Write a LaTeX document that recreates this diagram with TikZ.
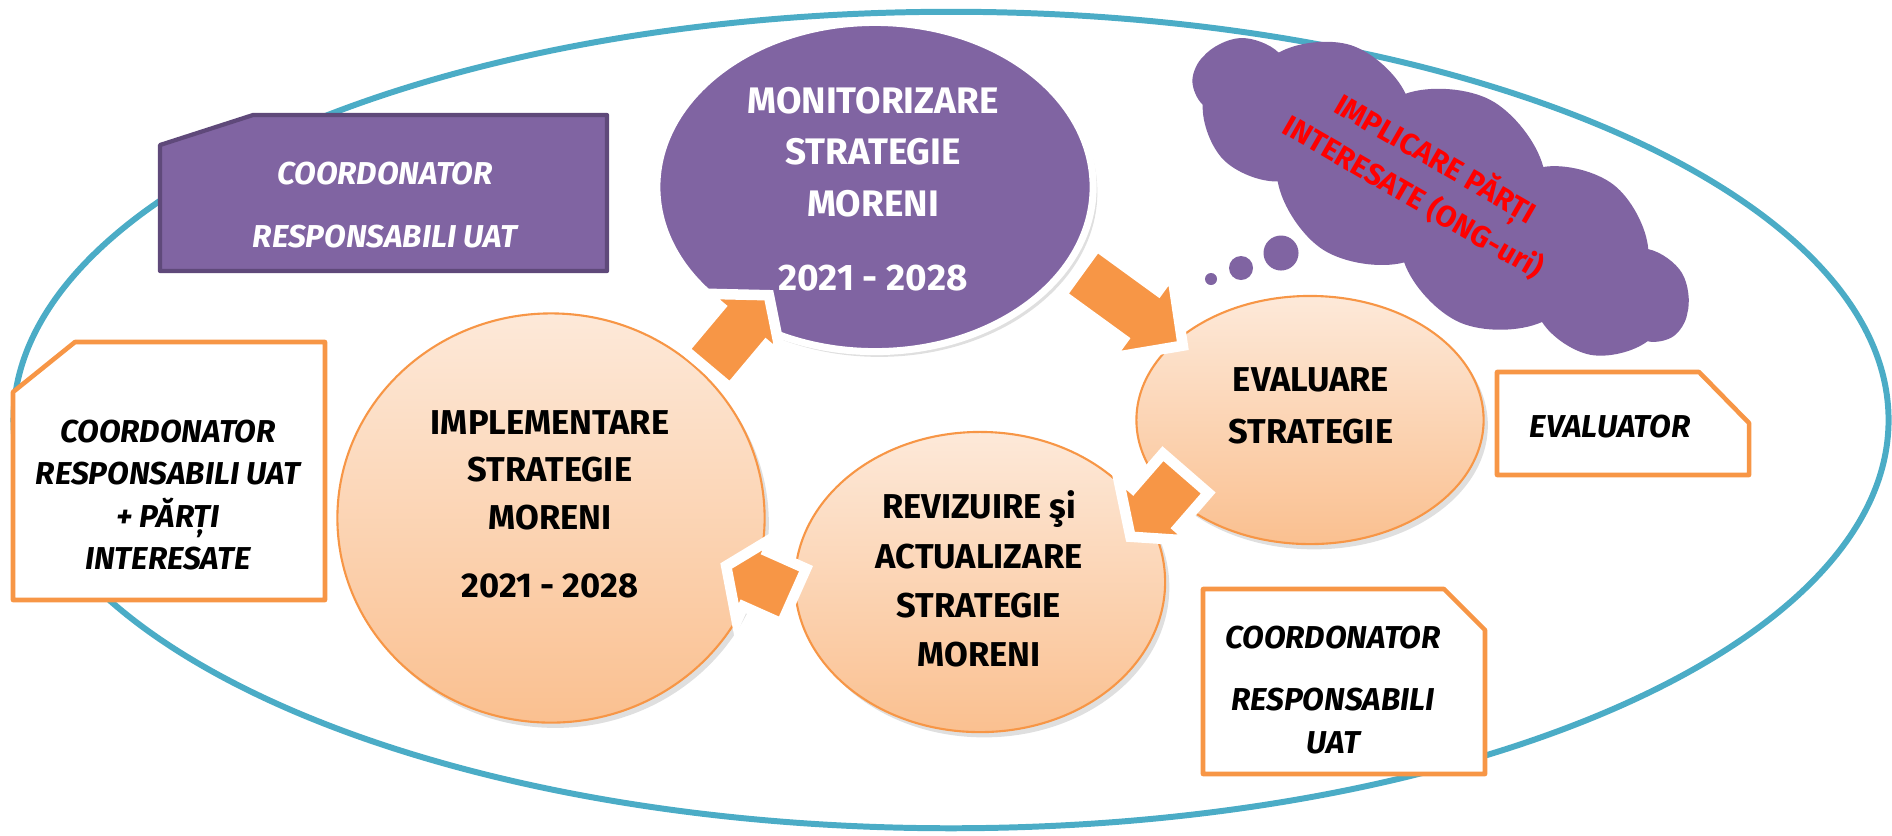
\documentclass[tikz,border=0pt]{standalone}
\usepackage{fontspec}
\setmainfont{Fira Sans}
\usetikzlibrary{shapes.geometric,shapes.symbols,shadows}

\definecolor{cyclepurple}{HTML}{8064A2}
\definecolor{boxpurple}{HTML}{5F497A}
\definecolor{cycleorange}{HTML}{F79646}
\definecolor{peachtop}{HTML}{FDE9D9}
\definecolor{peachbottom}{HTML}{FAC090}
\definecolor{ringblue}{HTML}{4BACC6}

% block arrow: centre x, centre y, angle, length, head width, shaft width, head length
\newcommand{\cyclearrow}[7]{%
  \begin{scope}[shift={(#1+3,#2+3)},rotate=#3]
    \fill[black,opacity=0.18] (-#4/2,#6/2) -- (#4/2-#7,#6/2) -- (#4/2-#7,#5/2) -- (#4/2,0)
      -- (#4/2-#7,-#5/2) -- (#4/2-#7,-#6/2) -- (-#4/2,-#6/2) -- cycle;
  \end{scope}
  \begin{scope}[shift={(#1,#2)},rotate=#3]
    \filldraw[blockarrow] (-#4/2,#6/2) -- (#4/2-#7,#6/2) -- (#4/2-#7,#5/2) -- (#4/2,0)
      -- (#4/2-#7,-#5/2) -- (#4/2-#7,-#6/2) -- (-#4/2,-#6/2) -- cycle;
  \end{scope}}

\begin{document}
\begin{tikzpicture}[x=0.01cm,y=-0.01cm,
  cyclecircle/.style={ellipse,draw=cycleorange,line width=0.6pt,top color=peachtop,bottom color=peachbottom,inner sep=0pt,
    drop shadow={shadow xshift=1.2pt,shadow yshift=-1.5pt,opacity=0.25}},
  blockarrow/.style={fill=cycleorange,draw=white,line width=3pt,line join=miter},
  orangebox/.style={draw=cycleorange,fill=white,line width=1.3pt,line join=round},
  purplebox/.style={draw=boxpurple,fill=cyclepurple,line width=1.2pt,line join=round},
  steptext/.style={align=center,font=\bfseries\fontsize{9.8}{13.5}\selectfont},
  roletext/.style={align=center,font=\bfseries\itshape\fontsize{9}{12}\selectfont}]
\useasboundingbox (0,0) rectangle (1892,835);

% outer ring
\node[ellipse,draw=ringblue,line width=1.7pt,minimum width=18.74cm,minimum height=8.16cm] (ring) at (951,420) {};

% role boxes
\draw[purplebox] (160,145) -- (253,115) -- (607,115) -- (607,271) -- (160,271) -- cycle;
\draw[orangebox] (13,392) -- (75,342) -- (325,342) -- (325,600) -- (13,600) -- cycle;
\draw[orangebox] (1497,372) -- (1699,372) -- (1749,423) -- (1749,475) -- (1497,475) -- cycle;
\draw[orangebox] (1203,589) -- (1444,589) -- (1485,630) -- (1485,774) -- (1203,774) -- cycle;

% thought cloud
\node[cloud,cloud puffs=11,cloud puff arc=95,fill=cyclepurple,inner sep=0pt,
  minimum width=5.5cm,minimum height=2.15cm,rotate=-28] (cloud) at (1440,195) {};
\node[circle,fill=cyclepurple,inner sep=0pt,minimum size=0.35cm] (dotA) at (1281,253) {};
\node[circle,fill=cyclepurple,inner sep=0pt,minimum size=0.24cm] (dotB) at (1241,268) {};
\node[circle,fill=cyclepurple,inner sep=0pt,minimum size=0.12cm] (dotC) at (1211,279) {};

% cycle
\node[cyclecircle,minimum width=3.47cm,minimum height=2.48cm] (evalc) at (1310,420) {};
\node[cyclecircle,minimum width=3.70cm,minimum height=3.00cm] (rev) at (980,582) {};
\node[cyclecircle,minimum width=4.27cm,minimum height=4.09cm] (impl) at (551,518) {};
\node[ellipse,fill=cyclepurple,draw=white,line width=2pt,inner sep=0pt,minimum width=4.36cm,minimum height=3.29cm,
  drop shadow={shadow xshift=1.2pt,shadow yshift=-1.5pt,opacity=0.25}] (mon) at (875,187) {};

% arrows
\cyclearrow{738}{332}{50}{96}{100}{60}{40}
\cyclearrow{1131}{308}{-36}{128}{106}{60}{52}
\cyclearrow{1158}{505}{229}{84}{100}{60}{38}
\cyclearrow{760}{581}{156}{74}{92}{60}{32}

% step labels
\node[steptext,text=white,font=\bfseries\fontsize{10.5}{14.6}\selectfont] (montext) at (873,189)
  {MONITORIZARE\\STRATEGIE\\MORENI\\[6.5pt]2021 - 2028};
\node[steptext] (impltext) at (550,504) {IMPLEMENTARE\\STRATEGIE\\MORENI\\[5.8pt]2021 - 2028};
\node[steptext,font=\bfseries\fontsize{9.8}{14.8}\selectfont] (evaltext) at (1311,406) {EVALUARE\\STRATEGIE};
\node[steptext,font=\bfseries\fontsize{9.8}{14}\selectfont] (revtext) at (979,579) {REVIZUIRE şi\\ACTUALIZARE\\STRATEGIE\\MORENI};

% role labels
\node[roletext,text=white] (roletop) at (385,205) {COORDONATOR\\[6pt]RESPONSABILI UAT};
\node[roletext] (roleleft) at (168,495) {COORDONATOR\\RESPONSABILI UAT\\+ PĂRȚI\\INTERESATE};
\node[roletext] (roleeval) at (1610,427) {EVALUATOR};
\node[roletext] (roleright) at (1333,690) {COORDONATOR\\[5.6pt]RESPONSABILI\\UAT};

% cloud label
\node[align=center,text=red,rotate=-30,font=\bfseries\fontsize{8.5}{12.5}\selectfont] (cloudtext) at (1425,177)
  {IMPLICARE PĂRȚI\\INTERESATE (ONG-uri)};

\end{tikzpicture}
\end{document}
